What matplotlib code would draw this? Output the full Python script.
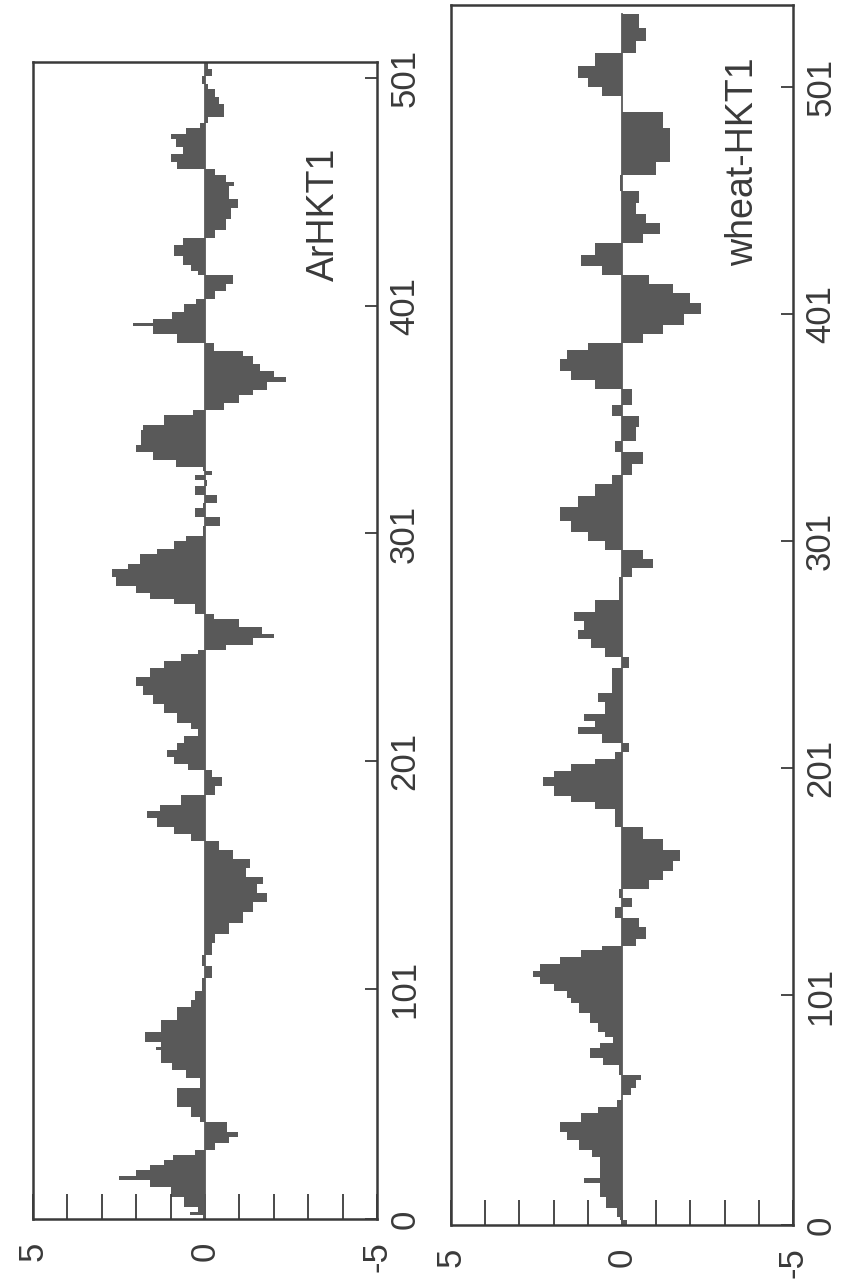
import matplotlib
matplotlib.use("Agg")
import matplotlib.pyplot as plt
import numpy as np

plt.rcParams['font.family'] = ['Liberation Sans', 'DejaVu Sans']

# hydropathy profile of ArHKT1: residue where each step starts, and its value
ar_start = [0, 1.8, 3.2, 5.4, 9.8, 14.2, 17.1, 18.9, 21.5, 23.7, 25.9, 28.1, 30.3, 33.2,
            36.1, 38.3, 42.7, 44.9, 49.3, 57.4, 61.8, 65.4, 68.4, 74.2, 75.7, 77.9, 82.3,
            87.4, 93, 96, 100, 106, 111, 116, 121, 125, 130, 135, 139, 143, 147, 150, 154,
            158, 162, 166, 169, 172, 176, 179, 182, 186, 190, 194, 197, 200, 203, 206, 209,
            212, 215, 218, 222, 226, 230, 234, 238, 242, 245, 248, 250, 252, 255, 257, 260,
            263.4, 265.8, 269.9, 272.3, 274.8, 278.1, 282.1, 285.4, 287.8, 291.9, 294.3,
            297.5, 300, 304.1, 308.1, 312.2, 314.6, 317.9, 322, 324.4, 326.8, 328.5, 330.1,
            333.3, 336.6, 339.8, 346.3, 348.8, 352.9, 355.3, 358.5, 361.8, 364.2, 367.5,
            369.9, 372.4, 375.6, 378.9, 381.3, 384.6, 388.6, 391.9, 393.5, 395.1, 398.4,
            401.6, 404.1, 407.3, 410.6, 414.7, 416.3, 418.7, 422.8, 427.7, 430.9, 434.2,
            439, 443.9, 448, 453.7, 455.3, 458.6, 461, 464.3, 467.5, 470.8, 474, 476.5,
            478.9, 481.3, 483.8, 489.5, 492.7, 496, 498.4, 501.7, 505]
ar_value = [0.05, 0.45, 0.2, 0.6, 1.0, 1.6, 2.5, 2.0, 1.6, 1.2, 0.93, 0.3, -0.3, -0.7,
            -0.95, -0.63, 0.15, 0.4, 0.8, 0.15, 0.55, 0.95, 1.27, 1.43, 1.27, 1.75, 1.27,
            0.8, 0.4, 0.3, 0.1, -0.2, 0.1, -0.2, -0.3, -0.7, -1.1, -1.4, -1.8, -1.5, -1.7,
            -1.2, -1.3, -0.8, -0.4, 0.4, 0.9, 1.4, 1.7, 1.3, 0.7, -0.3, -0.5, -0.2, 0.5,
            0.9, 1.1, 0.8, 0.6, 0.2, 0.4, 0.8, 1.2, 1.5, 1.8, 2.0, 1.6, 1.2, 0.7, 0.2,
            -0.6, -1.4, -2.0, -1.65, -1.0, -0.25, 0.3, 0.9, 1.6, 2.0, 2.6, 2.7, 2.25, 1.9,
            1.4, 0.9, 0.55, 0.05, -0.45, 0.3, 0.05, -0.35, 0.3, -0.05, 0.3, -0.2, 0.05,
            0.85, 1.5, 2.0, 1.85, 1.8, 1.2, 0.35, -0.55, -1.0, -1.4, -1.8, -2.35, -2.0,
            -1.6, -1.4, -1.1, -0.25, 0.8, 1.5, 2.1, 1.5, 0.95, 0.6, 0.25, -0.3, -0.6,
            -0.8, 0.2, 0.4, 0.65, 0.9, 0.65, -0.3, -0.6, -0.75, -0.95, -0.7, -0.85, -0.6,
            -0.3, 0.8, 1.0, 0.65, 0.85, 1.0, 0.55, 0.15, -0.1, -0.55, -0.4, -0.3, -0.1,
            0.1, -0.2, -0.1]
ar_end = 508

# hydropathy profile of wheat-HKT1
wheat_start = [0, 2, 3.7, 7.3, 12.5, 18.3, 20.5, 30.1, 33, 37.4, 41.1, 45.5, 49.2, 52.1,
               55, 57.2, 60.2, 63.8, 66, 70.5, 73.4, 77.8, 80, 82.9, 85.1, 88.8, 93.2,
               97.6, 100, 103, 106, 109, 112, 115, 118, 121, 123, 126, 131, 135, 140, 144,
               148, 152, 156, 160, 165, 170, 175, 183, 186, 189, 193, 197, 200, 203, 205,
               208, 212, 216, 219, 222, 225, 230, 234, 240, 245, 250, 254, 258, 262, 266,
               270, 275, 285, 289, 293, 297, 301, 305, 310, 316, 321, 326, 330, 335, 340,
               345, 351, 356, 361, 368, 372, 376, 381, 385, 388, 392, 396, 401, 406, 410,
               414, 418, 422, 427, 432, 436, 441, 445, 450, 455, 462, 468, 476, 483, 490,
               497, 501, 505, 510, 516, 521, 527]
wheat_value = [-0.15, 0.05, 0.15, 0.48, 0.63, 1.1, 0.63, 0.87, 1.27, 1.6, 1.8, 1.2, 0.7,
               0.15, 0.0, -0.25, -0.4, -0.55, 0.1, 0.55, 0.95, 0.63, 0.25, 0.5, 0.7, 0.95,
               1.27, 1.5, 1.6, 2.0, 2.4, 2.6, 2.4, 1.8, 1.2, 0.6, -0.4, -0.7, -0.5, 0.2,
               -0.3, 0.1, -0.8, -1.2, -1.5, -1.7, -1.2, -0.6, 0.2, 0.8, 1.5, 2.0, 2.3, 2.0,
               1.5, 0.8, 0.2, -0.2, 0.6, 1.3, 0.8, 1.1, 0.5, 0.7, 0.3, 0.3, -0.2, 0.5, 0.9,
               1.3, 1.1, 1.4, 0.8, 0.1, -0.3, -0.9, -0.6, 0.5, 1.0, 1.5, 1.8, 1.3, 0.8, 0.3,
               -0.3, -0.6, 0.2, -0.4, -0.5, 0.3, -0.3, 0.8, 1.5, 1.8, 1.6, 1.0, -0.6, -1.2,
               -1.8, -2.3, -2.0, -1.5, -0.8, 0.6, 1.2, 0.8, -0.6, -1.1, -0.7, -0.4, -0.5,
               0.05, -1.0, -1.4, -1.4, -1.2, 0.0, 0.6, 1.0, 1.3, 0.8, -0.4, -0.7, -0.5]
wheat_end = 533

residue_ticks = [0, 101, 201, 301, 401, 501]
hydro_ticks = [5, 4, 3, 2, 1, 0, -1, -2, -3, -4, -5]
hydro_labels = ['5', '', '', '', '', '0', '', '', '', '', '-5']

FILL = '#595959'
LINE = '#3a3a3a'
FS = 25


def draw_panel(ax, start, value, end, top, name, name_at):
    edges = np.append(start, end)
    vals = np.append(value, value[-1])
    ax.fill_betweenx(edges, vals, 0, step='post', color=FILL, linewidth=0)
    ax.plot([0, 0], [0, end], color=FILL, lw=1.3)

    ax.set_xlim(5, -5)
    ax.set_ylim(0, top)
    for sp in ax.spines.values():
        sp.set_color(LINE)
        sp.set_linewidth(1.8)

    ax.set_xticks(hydro_ticks)
    ax.set_xticklabels(hydro_labels, rotation=90, fontsize=FS, color=LINE)
    ax.tick_params(axis='x', direction='in', length=18, width=1.3, color=LINE, pad=16)

    ax.yaxis.tick_right()
    ax.set_yticks(residue_ticks)
    ax.set_yticklabels([str(t) for t in residue_ticks], rotation=90, va='center',
                       fontsize=FS, color=LINE)
    ax.tick_params(axis='y', direction='in', length=9, width=1.3, color=LINE, pad=8)

    ax.text(name_at[0], name_at[1], name, rotation=90, ha='center', va='center',
            fontsize=27, color=LINE)


fig = plt.figure(figsize=(8.44, 12.87), dpi=100)
ax1 = fig.add_axes([0.0391, 0.0528, 0.4076, 0.899])
ax2 = fig.add_axes([0.5344, 0.0482, 0.4052, 0.948])

draw_panel(ax1, ar_start, ar_value, ar_end, 508, 'ArHKT1', (-3.45, 441))
draw_panel(ax2, wheat_start, wheat_value, wheat_end, 537, 'wheat-HKT1', (-3.55, 468))

fig.savefig('out.png', dpi=100)
